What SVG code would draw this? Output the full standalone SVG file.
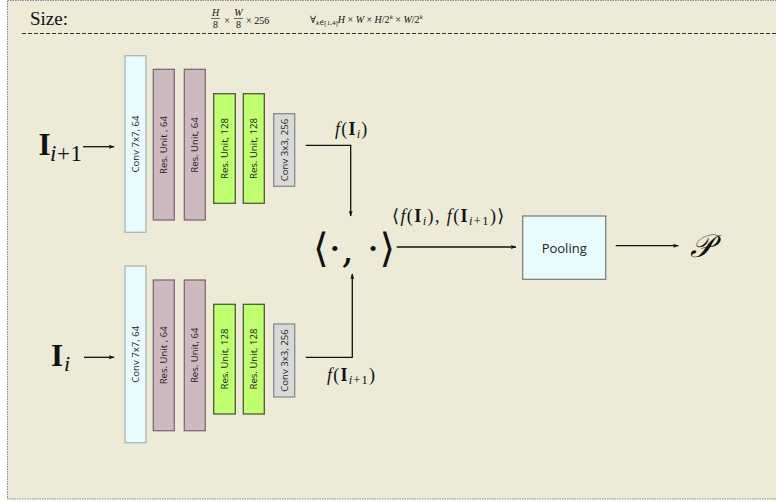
<svg xmlns="http://www.w3.org/2000/svg" width="776" height="503" viewBox="0 0 776 503">
<defs>
<marker id="ah" viewBox="0 0 10 10" refX="9" refY="5" markerWidth="6" markerHeight="6" markerUnits="userSpaceOnUse" orient="auto">
<path d="M0,1.5 L10,5 L0,8.5 L2.5,5 Z" fill="#111"/>
</marker>
<style>
.conv7{fill:#e8fcfd;stroke:#a9b6b1;stroke-width:1.3}
.res64{fill:#cfb9c0;stroke:#7a6c70;stroke-width:1.3}
.res128{fill:#bfff70;stroke:#4f5a35;stroke-width:1.3}
.conv3{fill:#d9d9d9;stroke:#8a8a8a;stroke-width:1.3}
.pool{fill:#e8fcfd;stroke:#777;stroke-width:1.2}
.lbl{font-family:"Open Sans","Noto Sans",sans-serif;font-size:9.6px;fill:#222;text-anchor:middle;dominant-baseline:central}
.ln{fill:none;stroke:#111;stroke-width:1.3}
.m{font-family:"Liberation Serif","DejaVu Serif",serif;fill:#111}
.mb{font-family:"Liberation Serif","DejaVu Serif",serif;font-weight:bold;fill:#111}
</style>
</defs>
<rect x="0" y="0" width="776" height="503" fill="#ffffff"/>
<rect x="7.5" y="0.5" width="780" height="498.5" fill="#edebd8" stroke="#888" stroke-width="1" stroke-dasharray="1.5,1"/>
<line x1="22" y1="33.5" x2="776" y2="33.5" stroke="#333" stroke-width="1.2" stroke-dasharray="4,2"/>

<g id="header">
<text x="30" y="25" class="m" font-size="19" style="font-family:'Liberation Serif','Times New Roman',serif">Size:</text>
<text x="215.5" y="16" class="m" font-size="10" font-style="italic" text-anchor="middle">H</text>
<line x1="211" y1="18.5" x2="220" y2="18.5" stroke="#111" stroke-width="0.6"/>
<text x="215.5" y="28" class="m" font-size="10" text-anchor="middle">8</text>
<text x="227" y="24" class="m" font-size="10" text-anchor="middle">×</text>
<text x="238.5" y="16" class="m" font-size="10" font-style="italic" text-anchor="middle">W</text>
<line x1="234" y1="18.5" x2="243" y2="18.5" stroke="#111" stroke-width="0.6"/>
<text x="238.5" y="28" class="m" font-size="10" text-anchor="middle">8</text>
<text x="246" y="24" class="m" font-size="10">× 256</text>
<text x="310" y="23" class="m" font-size="10">∀<tspan font-size="7" dy="2" font-style="italic">k</tspan><tspan font-size="7">∈[1,4]</tspan><tspan dy="-2" font-style="italic">H</tspan> × <tspan font-style="italic">W</tspan> × <tspan font-style="italic">H</tspan>/2<tspan font-size="7" dy="-4" font-style="italic">k</tspan><tspan dy="4"> × </tspan><tspan font-style="italic">W</tspan>/2<tspan font-size="7" dy="-4" font-style="italic">k</tspan></text>
</g>

<g id="input-top">
<text x="38.5" y="155" class="mb" font-size="31">I</text>
<text x="50" y="161" class="m" font-size="23" letter-spacing="0.6"><tspan font-style="italic">i</tspan>+1</text>
</g>
<g id="input-bottom">
<text x="51" y="366" class="mb" font-size="31">I</text>
<text x="64" y="371" class="m" font-size="22" font-style="italic">i</text>
</g>

<g id="top-conv7"><rect class="conv7" x="125" y="55.7" width="21" height="176.6"/><text class="lbl" transform="translate(135.5,144) rotate(-90)">Conv 7x7, 64</text></g>
<g id="top-res64a"><rect class="res64" x="153.3" y="69.3" width="21" height="150.7"/><text class="lbl" transform="translate(163.8,145) rotate(-90)">Res. Unit , 64</text></g>
<g id="top-res64b"><rect class="res64" x="184.3" y="69.3" width="21" height="150.7"/><text class="lbl" transform="translate(194.8,145) rotate(-90)">Res. Unit, 64</text></g>
<g id="top-res128a"><rect class="res128" x="213.7" y="93.7" width="21.6" height="109.6"/><text class="lbl" transform="translate(224.5,148.5) rotate(-90)">Res. Unit, 128</text></g>
<g id="top-res128b"><rect class="res128" x="243.3" y="93.7" width="21" height="109.6"/><text class="lbl" transform="translate(253.8,148.5) rotate(-90)">Res. Unit, 128</text></g>
<g id="top-conv3"><rect class="conv3" x="273.7" y="113.7" width="21" height="72.6"/><text class="lbl" transform="translate(284.2,150) rotate(-90)">Conv 3x3, 256</text></g>

<g id="bot-conv7"><rect class="conv7" x="125" y="266" width="21" height="176.7"/><text class="lbl" transform="translate(135.5,354.3) rotate(-90)">Conv 7x7, 64</text></g>
<g id="bot-res64a"><rect class="res64" x="153.3" y="280" width="21" height="150.7"/><text class="lbl" transform="translate(163.8,355.3) rotate(-90)">Res. Unit , 64</text></g>
<g id="bot-res64b"><rect class="res64" x="184.3" y="280" width="21" height="150.7"/><text class="lbl" transform="translate(194.8,355.3) rotate(-90)">Res. Unit, 64</text></g>
<g id="bot-res128a"><rect class="res128" x="213.7" y="304.3" width="21.6" height="109.7"/><text class="lbl" transform="translate(224.5,359) rotate(-90)">Res. Unit, 128</text></g>
<g id="bot-res128b"><rect class="res128" x="243.3" y="304.3" width="21" height="109.7"/><text class="lbl" transform="translate(253.8,359) rotate(-90)">Res. Unit, 128</text></g>
<g id="bot-conv3"><rect class="conv3" x="273.7" y="324" width="21" height="73"/><text class="lbl" transform="translate(284.2,360.5) rotate(-90)">Conv 3x3, 256</text></g>

<g id="inner-product">
<text x="354" y="262" font-family="DejaVu Serif,serif" font-size="40" fill="#111" text-anchor="middle">⟨·, ·⟩</text>
</g>

<g id="pooling"><rect class="pool" x="522.7" y="216" width="83" height="63.3"/><text x="564.2" y="248" font-family="Open Sans,Noto Sans,sans-serif" font-size="13" fill="#222" text-anchor="middle" dominant-baseline="central">Pooling</text></g>

<g id="output-P">
<text x="690" y="257" class="m" font-size="32" font-style="italic">𝒫</text>
</g>

<g id="connectors">
<line class="ln" x1="83" y1="146.7" x2="114" y2="146.7" marker-end="url(#ah)"/>
<line class="ln" x1="84" y1="357.3" x2="114" y2="357.3" marker-end="url(#ah)"/>
<polyline class="ln" points="305.7,145.3 350.7,145.3 350.7,216" marker-end="url(#ah)"/>
<polyline class="ln" points="305.7,357.3 352.3,357.3 352.3,274" marker-end="url(#ah)"/>
<line class="ln" x1="396.7" y1="247" x2="516" y2="247" marker-end="url(#ah)"/>
<line class="ln" x1="615.7" y1="245.7" x2="678.3" y2="245.7" marker-end="url(#ah)"/>
<text x="335" y="135" class="m" font-size="18" letter-spacing="1.2"><tspan font-style="italic">f</tspan>(<tspan font-weight="bold">I</tspan><tspan font-size="12.5" dy="3" font-style="italic">i</tspan><tspan dy="-3">)</tspan></text>
<text x="327" y="381" class="m" font-size="18" letter-spacing="1.2"><tspan font-style="italic">f</tspan>(<tspan font-weight="bold">I</tspan><tspan font-size="12.5" dy="3"><tspan font-style="italic">i</tspan>+1</tspan><tspan dy="-3">)</tspan></text>
<text x="392" y="222" class="m" font-size="18" letter-spacing="1.4">⟨<tspan font-style="italic">f</tspan>(<tspan font-weight="bold">I</tspan><tspan font-size="12.5" dy="3" font-style="italic">i</tspan><tspan dy="-3">), </tspan><tspan font-style="italic">f</tspan>(<tspan font-weight="bold">I</tspan><tspan font-size="12.5" dy="3"><tspan font-style="italic">i</tspan>+1</tspan><tspan dy="-3">)⟩</tspan></text>
</g>
</svg>
